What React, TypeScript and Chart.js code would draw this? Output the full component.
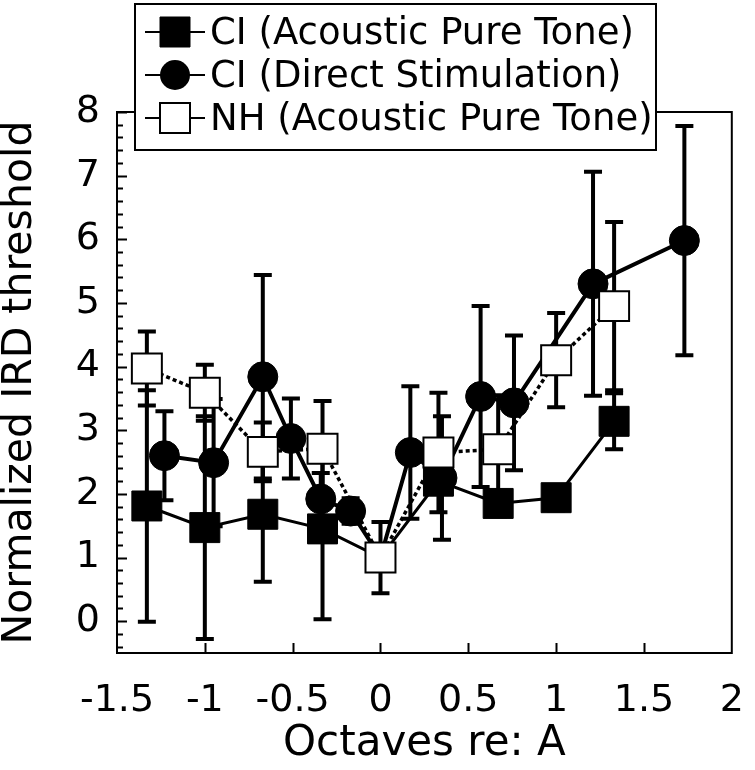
import React, { useEffect, useRef } from 'react';
import { Chart, registerables } from 'chart.js';

Chart.register(...registerables);

// ---------- data ----------
const seriesLabels = ['CI (Acoustic Pure Tone)', 'CI (Direct Stimulation)', 'NH (Acoustic Pure Tone)'];

const ciAcousticX = [-1.33, -1, -0.67, -0.33, 0, 0.33, 0.67, 1.0, 1.33];
const ciAcousticY = [1.81, 1.47, 1.68, 1.45, 1.0, 2.2, 1.85, 1.94, 3.14];
const ciAcousticErr = [1.82, 1.75, 1.06, 1.42, 0, 0.2, 0.2, 0.2, 0.44];

const ciDirectX = [-1.23, -0.95, -0.67, -0.51, -0.34, -0.17, 0, 0.17, 0.35, 0.57, 0.76, 1.21, 1.73];
const ciDirectY = [2.6, 2.49, 3.84, 2.87, 1.92, 1.73, 1.0, 2.65, 2.25, 3.53, 3.43, 5.3, 5.98];
const ciDirectErr = [0.7, 1.0, 1.6, 0.63, 0.41, 0.2, 0, 1.04, 0.97, 1.42, 1.06, 1.76, 1.8];

const nhX = [-1.33, -1, -0.67, -0.33, 0, 0.33, 0.67, 1.0, 1.33];
const nhY = [3.97, 3.59, 2.66, 2.71, 1.0, 2.65, 2.7, 4.1, 4.95];
const nhErr = [0.58, 0.44, 0.46, 0.75, 0.56, 0.94, 0.85, 0.74, 1.32];

const xTickValues = [-1.5, -1, -0.5, 0, 0.5, 1, 1.5, 2];
const yTickValues = [0, 1, 2, 3, 4, 5, 6, 7, 8];
const yMinorTicks = [-0.4, -0.2, 0.2, 0.4, 0.6, 0.8, 1.2, 1.4, 1.6, 1.8, 2.2, 2.4, 2.6, 2.8, 3.2, 3.4, 3.6, 3.8, 4.2, 4.4, 4.6, 4.8, 5.2, 5.4, 5.6, 5.8, 6.2, 6.4, 6.6, 6.8, 7.2, 7.4, 7.6, 7.8];

const xTitle = 'Octaves re: A';
const yTitle = 'Normalized IRD threshold';

// ---------- styling ----------
const FONT = '"DejaVu Sans", "Liberation Sans", Arial, sans-serif';

const toPoints = (xs: number[], ys: number[]) => xs.map((x, i) => ({ x, y: ys[i] }));

const framePlugin = {
  id: 'frameTicks',
  beforeDatasetsDraw(chart: any) {
    const { ctx, chartArea } = chart;
    const xs = chart.scales.x;
    const ys = chart.scales.y;
    ctx.save();
    ctx.strokeStyle = '#000';
    ctx.lineWidth = 2;
    ctx.strokeRect(chartArea.left, chartArea.top, chartArea.right - chartArea.left, chartArea.bottom - chartArea.top);
    ctx.beginPath();
    yTickValues.forEach((v) => {
      const py = Math.round(ys.getPixelForValue(v)) + 0.5;
      ctx.moveTo(chartArea.left, py);
      ctx.lineTo(chartArea.left + 10, py);
    });
    yMinorTicks.forEach((v) => {
      const py = Math.round(ys.getPixelForValue(v)) + 0.5;
      ctx.moveTo(chartArea.left, py);
      ctx.lineTo(chartArea.left + 6, py);
    });
    xTickValues.forEach((v) => {
      if (v <= xs.min || v >= xs.max) return;
      const px = Math.round(xs.getPixelForValue(v)) + 0.5;
      ctx.moveTo(px, chartArea.bottom);
      ctx.lineTo(px, chartArea.bottom - 10);
    });
    ctx.stroke();

    // error bars (beneath markers)
    ctx.lineWidth = 4;
    chart.data.datasets.forEach((ds: any) => {
      ds.data.forEach((p: any, i: number) => {
        const e = ds.errors[i];
        if (!e) return;
        const px = xs.getPixelForValue(p.x);
        const top = ys.getPixelForValue(p.y + e);
        const bot = ys.getPixelForValue(p.y - e);
        ctx.beginPath();
        ctx.moveTo(px, top);
        ctx.lineTo(px, bot);
        ctx.moveTo(px - 9, top);
        ctx.lineTo(px + 9, top);
        ctx.moveTo(px - 9, bot);
        ctx.lineTo(px + 9, bot);
        ctx.stroke();
      });
    });
    ctx.restore();
  },
};

const legendPlugin = {
  id: 'boxLegend',
  afterDraw(chart: any) {
    const { ctx } = chart;
    const box = { left: 135, top: 4, right: 656, bottom: 150 };
    const rows = [32, 75, 118];
    ctx.save();
    ctx.fillStyle = '#fff';
    ctx.fillRect(box.left, box.top, box.right - box.left, box.bottom - box.top);
    ctx.strokeStyle = '#000';
    ctx.lineWidth = 2;
    ctx.strokeRect(box.left, box.top, box.right - box.left, box.bottom - box.top);
    const order = [0, 1, 2];
    order.forEach((di, r) => {
      const ds = chart.data.datasets[di];
      const y = rows[r];
      ctx.lineWidth = 2;
      ctx.strokeStyle = '#000';
      ctx.beginPath();
      ctx.moveTo(145, y);
      ctx.lineTo(205, y);
      ctx.stroke();
      ctx.fillStyle = ds.pointBackgroundColor;
      ctx.beginPath();
      if (ds.pointStyle === 'circle') {
        ctx.arc(175, y, 15, 0, Math.PI * 2);
        ctx.fill();
      } else {
        ctx.rect(160, y - 15, 30, 30);
        ctx.fill();
        ctx.lineWidth = ds.pointBorderWidth;
        ctx.stroke();
      }
      ctx.fillStyle = '#000';
      ctx.font = `37px ${FONT}`;
      ctx.textBaseline = 'middle';
      ctx.textAlign = 'left';
      ctx.fillText(ds.label, 210, y + 2);
    });
    ctx.restore();
  },
};

export default function App() {
  const canvasRef = useRef<HTMLCanvasElement | null>(null);

  useEffect(() => {
    if (!canvasRef.current) return;
    const chart = new Chart(canvasRef.current, {
      type: 'line',
      data: {
        datasets: [
          {
            label: seriesLabels[0],
            data: toPoints(ciAcousticX, ciAcousticY),
            errors: ciAcousticErr,
            borderColor: '#000',
            borderWidth: 3,
            pointStyle: 'rect',
            pointRadius: 21.2,
            pointBackgroundColor: '#000',
            pointBorderColor: '#000',
            pointBorderWidth: 1,
            order: 2,
          } as any,
          {
            label: seriesLabels[1],
            data: toPoints(ciDirectX, ciDirectY),
            errors: ciDirectErr,
            borderColor: '#000',
            borderWidth: 4,
            pointStyle: 'circle',
            pointRadius: 15,
            pointBackgroundColor: '#000',
            pointBorderColor: '#000',
            pointBorderWidth: 1,
            order: 1,
          } as any,
          {
            label: seriesLabels[2],
            data: toPoints(nhX, nhY),
            errors: nhErr,
            borderColor: '#000',
            borderWidth: 3.5,
            borderDash: [4, 3],
            pointStyle: 'rect',
            pointRadius: 21.2,
            pointBackgroundColor: '#fff',
            pointBorderColor: '#000',
            pointBorderWidth: 2,
            order: 0,
          } as any,
        ],
      },
      options: {
        responsive: false,
        animation: false,
        devicePixelRatio: 1,
        layout: { padding: { top: 112, right: 16, left: 0, bottom: 0 } },
        plugins: {
          legend: { display: false },
          tooltip: { enabled: false },
        },
        elements: { line: { tension: 0 } },
        scales: {
          x: {
            type: 'linear',
            min: -1.5,
            max: 2,
            afterBuildTicks: (s: any) => {
              s.ticks = xTickValues.map((v) => ({ value: v }));
            },
            afterFit: (s: any) => {
              s.height = 117;
              s.paddingLeft = 0;
              s.paddingRight = 0;
            },
            grid: { display: false, drawTicks: false },
            border: { display: false },
            ticks: {
              color: '#000',
              font: { family: FONT, size: 38 },
              padding: 25,
              maxRotation: 0,
              autoSkip: false,
              callback: (v: any) => String(v),
            },
            title: {
              display: true,
              text: xTitle,
              color: '#000',
              font: { family: FONT, size: 42, lineHeight: 1 },
              padding: { top: 0, bottom: 5 },
            },
          },
          y: {
            type: 'linear',
            min: -0.5,
            max: 8,
            afterBuildTicks: (s: any) => {
              s.ticks = yTickValues.map((v) => ({ value: v }));
            },
            afterFit: (s: any) => {
              s.width = 117;
              s.paddingTop = 0;
              s.paddingBottom = 0;
            },
            grid: { display: false, drawTicks: false },
            border: { display: false },
            ticks: {
              color: '#000',
              font: { family: FONT, size: 38 },
              padding: 17,
              callback: (v: any) => String(v),
            },
            title: {
              display: true,
              text: yTitle,
              color: '#000',
              font: { family: FONT, size: 41, lineHeight: 1 },
              padding: 0,
            },
          },
        },
      } as any,
      plugins: [framePlugin, legendPlugin],
    });
    return () => chart.destroy();
  }, []);

  return (
    <div style={{ position: 'absolute', left: 0, top: 0, width: 755, height: 770, background: '#fff' }}>
      <canvas ref={canvasRef} width={755} height={770} style={{ width: 755, height: 770 }} />
    </div>
  );
}
